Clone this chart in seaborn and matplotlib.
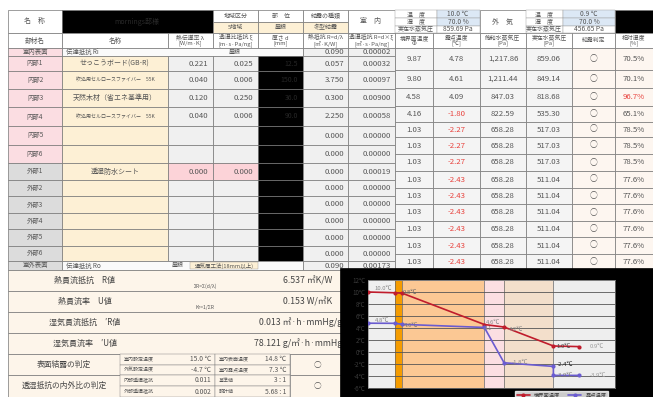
import numpy as np
import pandas as pd
import matplotlib
matplotlib.use("Agg")
import matplotlib.pyplot as plt
import seaborn as sns
from matplotlib.patches import Rectangle

sns.set_style("white")
plt.rcParams['font.family'] = ['Noto Sans CJK JP', 'DejaVu Sans']

# ---- データ（表） ----
layer_names = ['室内表面', '内部1', '内部2', '内部3', '内部4', '内部5', '内部6',
               '外部1', '外部2', '外部3', '外部4', '外部5', '外部6', '室外表面']
materials = ['伝達抵抗 Ri', 'せっこうボード(GB-R)', '吹込用セルロースファイバー　55K',
             '天然木材（省エネ基準用）', '吹込用セルロースファイバー　55K', '', '',
             '透湿防水シート', '', '', '', '', '', '伝達抵抗 Ro']
conductivity = ['', '0.221', '0.040', '0.120', '0.040', '', '', '0.000', '', '', '', '', '', '']
vapour_resistivity = ['', '0.025', '0.006', '0.250', '0.006', '', '', '0.000', '', '', '', '', '', '']
thickness = ['', '12.5', '150.0', '36.0', '90.0', '', '', '', '', '', '', '', '', '']
heat_resistance = ['0.090', '0.057', '3.750', '0.300', '2.250', '0.000', '0.000',
                   '0.000', '0.000', '0.000', '0.000', '0.000', '0.000', '0.090']
vapour_resistance = ['0.00002', '0.00032', '0.00097', '0.00900', '0.00058', '0.00000', '0.00000',
                     '0.00019', '0.00000', '0.00000', '0.00000', '0.00000', '0.00000', '0.00173']

boundary_temp = [9.87, 9.80, 4.58, 4.16, 1.03, 1.03, 1.03, 1.03, 1.03, 1.03, 1.03, 1.03, 1.03]
dew_point = [4.78, 4.61, 4.09, -1.80, -2.27, -2.27, -2.27, -2.43, -2.43, -2.43, -2.43, -2.43, -2.43]
sat_pressure = [1217.86, 1211.44, 847.03, 822.59, 658.28, 658.28, 658.28,
                658.28, 658.28, 658.28, 658.28, 658.28, 658.28]
actual_pressure = [859.06, 849.14, 818.68, 535.30, 517.03, 517.03, 517.03,
                   511.04, 511.04, 511.04, 511.04, 511.04, 511.04]
rel_humidity = [70.5, 70.1, 96.7, 65.1, 78.5, 78.5, 78.5, 77.6, 77.6, 77.6, 77.6, 77.6, 77.6]

# ---- データ（グラフ） ----
temp_pos = [0, 50, 62.5, 212.5, 248.5, 338.5, 385]
temp_vals = [10.0, 9.87, 9.80, 4.58, 4.16, 1.0, 0.9]
dew_pos = [0, 50, 62.5, 212.5, 248.5, 338.5, 338.5, 385]
dew_vals = [4.8, 4.78, 4.61, 4.09, -1.80, -2.4, -3.9, -3.9]
band_edges = [0, 50, 62.5, 212.5, 248.5, 338.5, 451]
band_colors = ['#efefef', '#f59c00', '#fbc894', '#fbdfe2', '#f3dfcb', '#eeeeee']

fig = plt.figure(figsize=(6.53, 3.97), dpi=100)
ax = fig.add_axes([0, 0, 1, 1])
ax.set_xlim(0, 653)
ax.set_ylim(397, 0)
ax.axis('off')

GRAY = '#555555'
RED = '#e8413c'
CREAM = '#fdf0d5'
LGRAY = '#f0f0f0'
BLUE = '#dce8f5'


def cell(x0, x1, y0, y1, fc='white', ec='#777777', lw=0.5, z=1):
    ax.add_patch(Rectangle((x0, y0), x1 - x0, y1 - y0, facecolor=fc, edgecolor=ec, linewidth=lw, zorder=z))


def txt(x, y, s, size=5.5, color=GRAY, ha='center', **kw):
    ax.text(x, y, s, fontsize=size, color=color, ha=ha, va='center', zorder=3, **kw)


# 見出し1段目
cell(8, 62, 10, 33); txt(35, 21.5, '名　称', 5)
cell(62, 213, 10, 33, 'black'); txt(137, 21.5, 'mornings邸様', 5, '#2a2a2a')
for x0, x1, a, b in [(213, 258, '地域区分', '5地域'), (258, 303, '部　位', '屋根'), (303, 348, '結露の種類', '冬型結露')]:
    cell(x0, x1, 10, 21.5); txt((x0 + x1) / 2, 16, a, 4.3)
    cell(x0, x1, 21.5, 33, CREAM); txt((x0 + x1) / 2, 27.3, b, 4.3)
cell(348, 395, 10, 33); txt(371, 21.5, '室　内', 5)
cell(480, 526, 10, 33); txt(503, 21.5, '外　気', 5)
hy = [(10, 18), (18, 25.5), (25.5, 33)]
in_vals = ['10.0 ℃', '70.0 %', '859.69 Pa']
out_vals = ['0.9 ℃', '70.0 %', '456.65 Pa']
for k, (y0, y1) in enumerate(hy):
    lab = ['温　度', '湿　度', '実在水蒸気圧'][k]
    fc = BLUE if k < 2 else 'white'
    cell(395, 437, y0, y1, ec='#999999', lw=0.3); txt(416, (y0 + y1) / 2, lab, 4.3)
    cell(437, 480, y0, y1, fc, ec='#999999', lw=0.3); txt(458, (y0 + y1) / 2, in_vals[k], 4.8)
    cell(526, 563, y0, y1, ec='#999999', lw=0.3); txt(544, (y0 + y1) / 2, lab, 4.3)
    cell(563, 615, y0, y1, fc, ec='#999999', lw=0.3); txt(589, (y0 + y1) / 2, out_vals[k], 4.8)
cell(615, 653, 10, 33, 'black')

# 見出し2段目
cx = [8, 62, 168, 213, 258, 303, 348, 395, 433, 480, 526, 572, 615, 653]
heads = ['部材名', '名称', '熱伝導率 λ\n[W/m·K]', '透湿比抵抗 ξ\n[m·s·Pa/ng]', '厚さ d\n[mm]',
         '熱抵抗 R=d/λ\n[㎡·K/W]', '透湿抵抗 R=d×ξ\n[㎡·s·Pa/ng]', '境界面温度\nΦ', '露点温度\n[℃]',
         '飽和水蒸気圧\n[Pa]', '実在水蒸気圧\n[Pa]', '結露判定', '相対湿度\n[%]']
for i, h in enumerate(heads):
    cell(cx[i], cx[i + 1], 33, 48)
    txt((cx[i] + cx[i + 1]) / 2, 40.5, h, 4.2 if i > 1 else 4.8, linespacing=0.95)

# 本体（左）
ry = [48, 56, 71, 89, 107, 126, 145, 163, 180, 196, 213, 229, 246, 261, 270]
for i, name in enumerate(layer_names):
    y0, y1 = ry[i], ry[i + 1]
    ym = (y0 + y1) / 2
    fc = '#fbdde2' if (name.startswith('内部') or i == 0) else '#dcdcdc'
    cell(8, 62, y0, y1, fc); txt(35, ym, name, 4.6)
    if i in (0, 13):
        cell(62, 303, y0, y1, '#fafafa')
        txt(66, ym, materials[i], 4.6, ha='left')
        if i == 0:
            txt(235, ym, '屋根', 4.3)
        else:
            txt(178, ym, '屋根', 4.3)
            cell(190, 258, y0 + 1, y1 - 1, CREAM, ec='#999999', lw=0.3)
            txt(224, ym, '通気層工法(18mm以上)', 4.0)
    else:
        cell(62, 168, y0, y1, CREAM)
        small = 'ファイバー' in materials[i]
        txt(115, ym, materials[i], 3.6 if small else 5.0)
        pc = '#fcd3d8' if i == 7 else LGRAY
        cell(168, 213, y0, y1, pc); txt(208, ym, conductivity[i], 5.6, ha='right')
        cell(213, 258, y0, y1, pc); txt(253, ym, vapour_resistivity[i], 5.6, ha='right')
        cell(258, 303, y0, y1, 'black'); txt(298, ym, thickness[i], 5.0, '#262626', ha='right')
    cell(303, 348, y0, y1, LGRAY); txt(344, ym, heat_resistance[i], 5.6, ha='right')
    cell(348, 395, y0, y1, LGRAY); txt(391, ym, vapour_resistance[i], 5.6, ha='right')

# 本体（右）
ry2 = [48, 70, 88, 106, 122, 137, 154, 171, 188, 204, 221, 237, 254, 270]
for j in range(13):
    y0, y1 = ry2[j], ry2[j + 1]
    ym = (y0 + y1) / 2
    vals = [f'{boundary_temp[j]:.2f}', f'{dew_point[j]:.2f}', f'{sat_pressure[j]:,.2f}',
            f'{actual_pressure[j]:.2f}', '○', f'{rel_humidity[j]:.1f}%']
    for k in range(6):
        fc = '#f4f4f4' if k < 4 else '#fdf6f0'
        cell(cx[7 + k], cx[8 + k], y0, y1, fc)
        col = GRAY
        if k == 1 and dew_point[j] < 0:
            col = RED
        if k == 5 and rel_humidity[j] > 90:
            col = RED
        txt((cx[7 + k] + cx[8 + k]) / 2, ym, vals[k], 5.6, col)

# 下段
cream2 = '#fdf5ea'
bot = [(270, 291, '熱貫流抵抗　R値', 'ΣR=Σ(d/λ)', '6.537 ㎡K/W'),
       (291, 312, '熱貫流率　U値', 'Kr=1/ΣR', '0.153 W/㎡K'),
       (312, 333, '湿気貫流抵抗　′R値', '', '0.013 ㎡·h·mmHg/g'),
       (333, 354, '湿気貫流率　′U値', '', '78.121 g/㎡·h·mmHg')]
for y0, y1, lab, sub, val in bot:
    cell(8, 345, y0, y1, cream2)
    txt(85, (y0 + y1) / 2, lab, 5.8, '#444444', ha='center')
    if sub:
        txt(205, y1 - 5, sub, 3.6)
    txt(342 if 'mmHg' in val else 332, (y0 + y1) / 2, val, 6.3, '#444444', ha='right')

judge = [(354, 375, '表面結露の判定', ['室内設定温度', '外気設定温度'], ['15.0 ℃', '-4.7 ℃'],
          ['室内表面温度', '室内露点温度'], ['14.8 ℃', '7.3 ℃']),
         (375, 397, '透湿抵抗の内外比の判定', ['内部透湿抵抗', '外部透湿抵抗'], ['0.011', '0.002'],
          ['基準値', '設計値'], ['3 : 1', '5.68 : 1'])]
for y0, y1, lab, l1, v1, l2, v2 in judge:
    ym = (y0 + y1) / 2
    cell(8, 120, y0, y1, cream2); txt(64, ym, lab, 5.6, '#444444')
    for h in range(2):
        a0 = y0 + h * (y1 - y0) / 2
        a1 = a0 + (y1 - y0) / 2
        am = (a0 + a1) / 2
        cell(120, 215, a0, a1, cream2, lw=0.3)
        txt(124, am, l1[h], 3.6, ha='left'); txt(211, am, v1[h], 4.8, ha='right')
        cell(215, 290, a0, a1, cream2, lw=0.3)
        txt(219, am, l2[h], 3.6, ha='left'); txt(286, am, v2[h], 4.8, ha='right')
    cell(290, 345, y0, y1, cream2); txt(317, ym, '○', 5.5)

# グラフ背景（黒）
cell(340, 653, 268, 397, 'black', ec='black', z=4)

# ---- グラフ ----
ax2 = fig.add_axes([368 / 653, (397 - 388) / 397, 247 / 653, 108 / 397])
ax2.set_zorder(5)
for k in range(len(band_colors)):
    ax2.axvspan(band_edges[k], band_edges[k + 1], color=band_colors[k], lw=0, zorder=0)
for e in band_edges[1:-1]:
    ax2.axvline(e, color='#666666', lw=0.5, zorder=1)
for v in range(-6, 13, 2):
    ax2.axhline(v, color='#555555', lw=0.6, zorder=1)

df = pd.DataFrame({
    'pos': temp_pos + dew_pos,
    'temp': temp_vals + dew_vals,
    'series': ['境界面温度'] * len(temp_pos) + ['露点温度'] * len(dew_pos),
})
sns.lineplot(data=df, x='pos', y='temp', hue='series', sort=False, estimator=None,
             palette={'境界面温度': '#c01c2c', '露点温度': '#6a5cd0'},
             marker='o', markersize=3, markeredgewidth=0, linewidth=1.2, ax=ax2, zorder=3)

labels = [(12, 10.6, '10.0℃', '#888888'), (64, 10.0, '9.8℃', '#666666'),
          (215, 4.9, '4.6℃', '#888888'), (258, 3.7, '4.2℃', '#888888'),
          (345, 0.9, '1.0℃', '#444444'), (405, 0.9, '0.9℃', '#999999'),
          (12, 5.3, '4.8℃', '#888888'), (66, 4.5, '4.6℃', '#777777'),
          (212, 4.0, '4.1', '#888888'), (262, -1.8, '-1.8℃', '#888888'),
          (345, -2.1, '-2.4℃', '#222222'), (345, -3.9, '-3.9℃', '#777777'),
          (405, -3.9, '-3.9℃', '#999999')]
for x, y, s, c in labels:
    ax2.text(x, y, s, fontsize=4.3, color=c, ha='left', va='center', zorder=4)

ax2.set_xlim(0, 451)
ax2.set_ylim(-6, 12)
ax2.set_xticks([])
ax2.set_yticks(range(-6, 13, 2))
ax2.set_yticklabels([f'{v}℃' for v in range(-6, 13, 2)], fontsize=4.5, color='#3a3a3a')
ax2.tick_params(axis='y', length=0, pad=2)
ax2.set_xlabel('')
ax2.set_ylabel('')
for s in ax2.spines.values():
    s.set_color('#888888')
    s.set_linewidth(0.5)
sns.move_legend(ax2, 'upper left', bbox_to_anchor=(0.585, -0.005), ncol=2, title=None,
                frameon=True, fontsize=3.8, handlelength=2.5, borderpad=0.3,
                columnspacing=1.5, fancybox=False)
leg = ax2.get_legend()
leg.get_frame().set_edgecolor('white')
leg.get_frame().set_facecolor('white')
for t in leg.get_texts():
    t.set_color('#444444')

fig.savefig('out.png', dpi=100)
